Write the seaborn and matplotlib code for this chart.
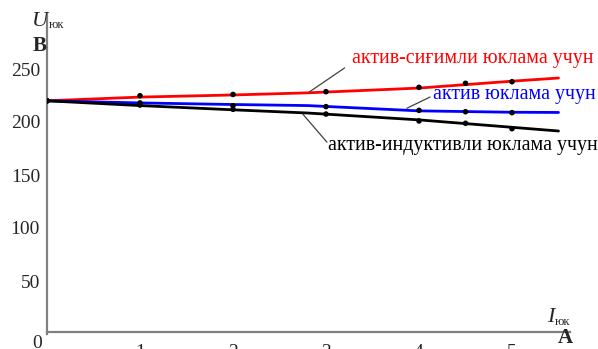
import numpy as np
import pandas as pd
import matplotlib
matplotlib.use('Agg')
import matplotlib.pyplot as plt
import seaborn as sns

sns.set_style("white")
plt.rcParams['font.family'] = ['Liberation Serif', 'DejaVu Serif']

# measured points (load current, A) and load voltage (V)
current = [0, 1, 2, 3, 4, 4.5, 5]
u_capacitive = [220, 224.8, 226, 228.6, 232.7, 236.5, 238]
u_resistive = [220, 218, 215.4, 214.5, 211, 209.7, 208.8]
u_inductive = [220, 216, 212, 207.5, 201, 198.8, 193.7]

# trend lines (drawn through read-off line positions, a bit past the last point)
line_x = [0, 1, 2, 2.8, 4, 5, 5.5]
line_cap = [220, 223.5, 225.5, 227.5, 232, 238.5, 241.5]
line_res = [220, 218, 216.5, 215.5, 210.5, 209.2, 209]
line_ind = [220, 215.5, 211.5, 208.5, 202, 195, 191.5]

labels = {
    'cap': 'актив-сиғимли юклама учун',
    'res': 'актив юклама учун',
    'ind': 'актив-индуктивли юклама учун',
}
colors = {'cap': '#ff0000', 'res': '#0000ff', 'ind': '#000000'}
x_ticks = [1, 2, 3, 4, 5]
y_ticks = [50, 100, 150, 200, 250]

series = {'cap': u_capacitive, 'res': u_resistive, 'ind': u_inductive}
trend = {'cap': line_cap, 'res': line_res, 'ind': line_ind}
lines_df = pd.DataFrame([{'I': x, 'U': u, 'load': k}
                         for k, vals in trend.items() for x, u in zip(line_x, vals)])
pts_df = pd.DataFrame([{'I': x, 'U': u, 'load': k}
                       for k, vals in series.items() for x, u in zip(current, vals)])

W, H = 598, 349
fig = plt.figure(figsize=(W / 100, H / 100), dpi=100)
# axes placed so that origin sits at pixel (47, 334)
x0, y0, x1, y1 = 47, 334, 570, 13
ax = fig.add_axes([x0 / W, 1 - y0 / H, (x1 - x0) / W, (y0 - y1) / H])
ax.set_xlim(0, (x1 - x0) / 93)
ax.set_ylim(0, (y0 - y1) / 1.06)

sns.lineplot(data=lines_df, x='I', y='U', hue='load', palette=colors,
             linewidth=2.0, legend=False, ax=ax, sort=False)
sns.scatterplot(data=pts_df, x='I', y='U', color='black', s=16,
                edgecolor='none', legend=False, ax=ax, zorder=5)

for side in ['top', 'right']:
    ax.spines[side].set_visible(False)
for side in ['left', 'bottom']:
    ax.spines[side].set_color('#808080')
    ax.spines[side].set_linewidth(1.6)
ax.spines['bottom'].set_position(('data', 1.5))

ax.set_xticks(x_ticks)
ax.set_yticks(y_ticks)
ax.tick_params(axis='x', direction='out', length=5, width=1, color='black',
               labelsize=14, pad=3)
ax.tick_params(axis='y', direction='out', length=4, width=1, color='black',
               labelsize=14, pad=1)
ax.set_xlabel('')
ax.set_ylabel('')
ax.grid(False)

# curve labels with leader lines
txt = dict(fontsize=14.3, va='center', ha='left')
ax.text(3.28, 260, labels['cap'], color=colors['cap'], **txt)
ax.text(4.15, 226, labels['res'], color=colors['res'], **txt)
ax.text(3.02, 178, labels['ind'], color=colors['ind'], **txt)
lead = dict(color='#404040', linewidth=0.9)
ax.plot([2.82, 3.20], [228.3, 251], **lead)
ax.plot([3.87, 4.12], [213, 223.6], **lead)
ax.plot([2.75, 3.01], [207.5, 181], **lead)

def px(x, y):
    return x / W, 1 - y / H

# axis titles
fig.text(*px(40, 21), 'U', fontsize=16, style='italic', ha='center', va='center')
fig.text(*px(57, 25), 'юк', fontsize=9, ha='center', va='center')
fig.text(*px(40, 46), 'В', fontsize=15, fontweight='bold', ha='center', va='center')
fig.text(*px(551, 318), 'I', fontsize=16, style='italic', ha='center', va='center')
fig.text(*px(563, 322), 'юк', fontsize=9, ha='center', va='center')
fig.text(*px(565, 338), 'А', fontsize=15, fontweight='bold', ha='center', va='center')
fig.text(*px(37, 344), '0', fontsize=14, ha='center', va='center')

fig.savefig('out.png', dpi=100)
